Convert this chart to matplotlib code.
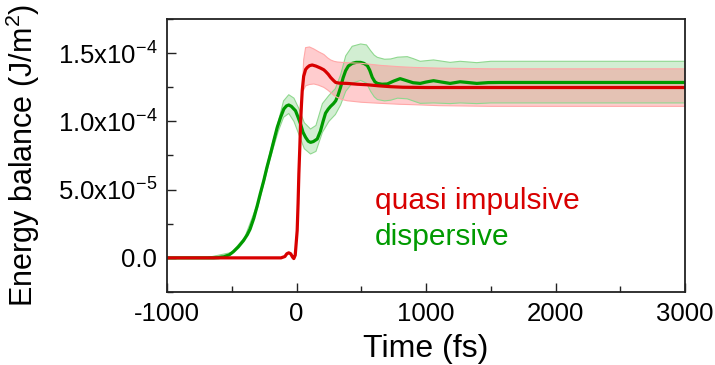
import matplotlib

matplotlib.use("Agg")
import matplotlib.pyplot as plt
from matplotlib.ticker import MultipleLocator, FixedLocator, FixedFormatter

# values are in units of 1e-4 J/m^2, time in fs
UNIT = 1e-4

green_t = [-1000, -700, -640, -600, -560, -520, -488, -450, -411, -380, -359, -330,
           -304, -280, -253, -228, -201, -175, -149, -123, -98, -78, -60, -40, -20,
           -8, 10, 31, 50, 70, 90, 108, 130, 160, 185, 205, 224, 245, 263, 285, 302,
           320, 340, 360, 379, 400, 430, 460, 495, 520, 547, 565, 585, 605, 624,
           660, 701, 750, 800, 860, 900, 955, 1000, 1058, 1120, 1186, 1263, 1330,
           1392, 1480, 1572, 2000, 3000]
green_v = [0.0, 0.0, 0.0, 0.002, 0.008, 0.022, 0.045, 0.08, 0.125, 0.17, 0.21, 0.29,
           0.38, 0.47, 0.566, 0.665, 0.761, 0.86, 0.956, 1.03, 1.091, 1.113, 1.12,
           1.11, 1.09, 1.078, 1.035, 0.981, 0.92, 0.883, 0.855, 0.846, 0.852, 0.871,
           0.93, 1.0, 1.06, 1.09, 1.11, 1.13, 1.15, 1.19, 1.249, 1.32, 1.371, 1.405,
           1.425, 1.432, 1.432, 1.425, 1.408, 1.375, 1.322, 1.29, 1.278, 1.272,
           1.274, 1.295, 1.313, 1.295, 1.283, 1.278, 1.288, 1.298, 1.288, 1.278,
           1.29, 1.284, 1.278, 1.284, 1.285, 1.285, 1.285]

green_band_t = [-700, -500, -400, -300, -200, -140, -100, -60, -20, 20, 60, 108,
                150, 200, 250, 300, 340, 380, 430, 495, 540, 572, 600, 624, 680,
                727, 780, 855, 900, 955, 1058, 1186, 1263, 1392, 1500, 3000]
green_upper = [0.0, 0.04, 0.15, 0.40, 0.79, 1.0, 1.15, 1.195, 1.17, 1.09, 0.99,
               0.944, 0.97, 1.13, 1.19, 1.24, 1.34, 1.48, 1.55, 1.567, 1.56, 1.518,
               1.485, 1.469, 1.455, 1.457, 1.47, 1.474, 1.46, 1.44, 1.45, 1.432,
               1.44, 1.43, 1.44, 1.44]
green_lower = [0.0, 0.03, 0.13, 0.37, 0.74, 0.93, 1.03, 1.058, 1.0, 0.9, 0.8,
               0.761, 0.78, 0.92, 1.0, 1.05, 1.12, 1.22, 1.28, 1.30, 1.28, 1.22,
               1.18, 1.16, 1.15, 1.155, 1.17, 1.165, 1.15, 1.132, 1.135, 1.13,
               1.135, 1.13, 1.135, 1.135]

red_t = [-1000, -200, -120, -90, -75, -60, -45, -30, -21, -10, 5, 12, 18, 25, 31,
         38, 44, 55, 70, 83, 100, 121, 150, 186, 210, 224, 245, 263, 285, 302, 330,
         392, 470, 547, 640, 727, 820, 907, 1000, 3000]
red_v = [0.0, 0.0, 0.0, 0.01, 0.03, 0.037, 0.03, 0.005, -0.005, 0.02, 0.2, 0.4,
         0.615, 0.8, 0.981, 1.12, 1.225, 1.33, 1.38, 1.395, 1.408, 1.413, 1.405,
         1.39, 1.378, 1.366, 1.345, 1.322, 1.30, 1.285, 1.28, 1.278, 1.272, 1.268,
         1.26, 1.254, 1.25, 1.249, 1.248, 1.248]

red_band_t = [45, 55, 70, 100, 134, 170, 211, 240, 263, 289, 314, 350, 392, 500,
              650, 800, 907, 1100, 1500, 3000]
red_upper = [1.23, 1.45, 1.54, 1.545, 1.53, 1.51, 1.49, 1.465, 1.45, 1.44, 1.435,
             1.432, 1.43, 1.425, 1.41, 1.40, 1.395, 1.39, 1.385, 1.385]
red_lower = [1.22, 1.23, 1.26, 1.27, 1.274, 1.265, 1.249, 1.23, 1.212, 1.19, 1.176,
             1.16, 1.151, 1.14, 1.132, 1.125, 1.122, 1.115, 1.11, 1.11]

ytick_vals = [0.0, 0.5, 1.0, 1.5]
ytick_labels = ["0.0", "5.0x10$^{-5}$", "1.0x10$^{-4}$", "1.5x10$^{-4}$"]

RED = "#d80000"
GREEN = "#009a00"


def scaled(vals):
    return [v * UNIT for v in vals]


plt.rcParams.update(
    {
        "font.family": ["Liberation Sans", "DejaVu Sans"],
        "mathtext.fontset": "custom",
        "mathtext.rm": "Liberation Sans",
        "mathtext.it": "Liberation Sans:italic",
        "mathtext.bf": "Liberation Sans:bold",
        "mathtext.default": "regular",
        "axes.unicode_minus": False,
    }
)

fig = plt.figure(figsize=(7.15, 3.65), dpi=100)
ax = fig.add_axes([0.2336, 0.2, 0.7245, 0.748])

ax.fill_between(green_band_t, scaled(green_lower), scaled(green_upper),
                facecolor="#80d080", alpha=0.35, edgecolor="none")
ax.plot(green_band_t, scaled(green_upper), color="#8fd88f", lw=0.8)
ax.plot(green_band_t, scaled(green_lower), color="#8fd88f", lw=0.8)
ax.plot(green_t, scaled(green_v), color=GREEN, lw=2.3, solid_capstyle="butt")

ax.fill_between(red_band_t, scaled(red_lower), scaled(red_upper),
                facecolor="#ff878c", alpha=0.42, edgecolor="none")
ax.plot(red_band_t, scaled(red_upper), color="#ffa8a8", lw=0.8)
ax.plot(red_band_t, scaled(red_lower), color="#ffa8a8", lw=0.8)
ax.plot(red_t, scaled(red_v), color=RED, lw=2.3, solid_capstyle="butt")

ax.text(606, 0.356 * UNIT, "quasi impulsive", color=RED, fontsize=21.5, va="baseline")
ax.text(606, 0.094 * UNIT, "dispersive", color=GREEN, fontsize=21.5, va="baseline")

ax.set_xlim(-1000, 3000)
ax.set_ylim(-0.25 * UNIT, 1.75 * UNIT)
ax.xaxis.set_major_locator(MultipleLocator(1000))
ax.xaxis.set_minor_locator(MultipleLocator(500))
ax.yaxis.set_major_locator(FixedLocator(scaled(ytick_vals)))
ax.yaxis.set_major_formatter(FixedFormatter(ytick_labels))
ax.yaxis.set_minor_locator(MultipleLocator(0.25 * UNIT))

ax.tick_params(which="both", direction="in", top=False, right=False,
               labelsize=18.5, width=1.0, color="#222222")
ax.tick_params(which="major", length=6.5, pad=7)
ax.tick_params(which="minor", length=4)
for s in ax.spines.values():
    s.set_linewidth(1.3)
    s.set_color("#222222")

ax.set_xlabel("Time (fs)", fontsize=23, labelpad=6)
ax.set_ylabel("Energy balance (J/m$^2$)", fontsize=22, labelpad=11)

fig.savefig("out.png", dpi=100)
